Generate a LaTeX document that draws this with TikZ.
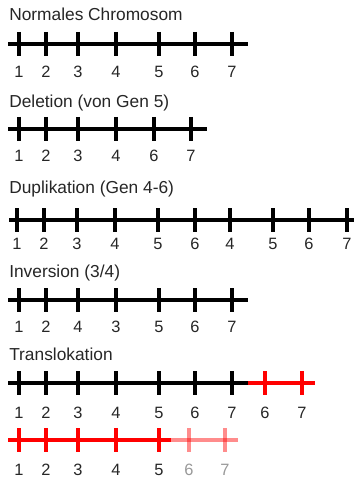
\documentclass[tikz,border=0pt]{standalone}
\usepackage{fontspec}
\setmainfont{Liberation Sans}
\usetikzlibrary{positioning}

\tikzset{
  chrom/.style={line width=3.5pt},
  gene/.style={line width=3.2pt},
  nr/.style={font=\fontsize{12.3}{14}\selectfont, inner sep=0pt, text=black!85},
  title/.style={font=\fontsize{13}{15}\selectfont, inner sep=0pt, anchor=base west, text=black!85},
}

\begin{document}
\begin{tikzpicture}[x=0.75pt, y=-0.75pt]
  \useasboundingbox (0,0) rectangle (354,477);

  % normales Chromosom
  \node[title] (normal) at (9,21) {Normales Chromosom};
  \draw[chrom] (8,44) -- (248,44);
  \foreach \x/\n [count=\i] in {19/1,46/2,78/3,116/4,159/5,195/6,232/7}{
    \draw[gene] (\x,32) -- (\x,56);
    \node[nr] (normal\i) at (\x,72) {\n};
  }

  % Deletion
  \node[title] (deletion) at (9,108) {Deletion (von Gen 5)};
  \draw[chrom] (8,129) -- (207,129);
  \foreach \x/\n [count=\i] in {19/1,46/2,78/3,116/4,154/6,191/7}{
    \draw[gene] (\x,117) -- (\x,141);
    \node[nr] (deletion\i) at (\x,156) {\n};
  }

  % Duplikation
  \node[title] (duplikation) at (9,194) {Duplikation (Gen 4-6)};
  \draw[chrom] (9,220) -- (354,220);
  \foreach \x/\n [count=\i] in {17/1,44/2,77/3,115/4,158/5,195/6,230/4,273/5,309/6,347/7}{
    \draw[gene] (\x,208) -- (\x,232);
    \node[nr] (duplikation\i) at (\x,244) {\n};
  }

  % Inversion
  \node[title] (inversion) at (9,277) {Inversion (3/4)};
  \draw[chrom] (8,300) -- (248,300);
  \foreach \x/\n [count=\i] in {19/1,46/2,78/4,116/3,159/5,195/6,232/7}{
    \draw[gene] (\x,288) -- (\x,312);
    \node[nr] (inversion\i) at (\x,327) {\n};
  }

  % Translokation
  \node[title] (translokation) at (9,360.5) {Translokation};
  \draw[chrom] (8,383) -- (248,383);
  \draw[chrom, red] (248,383) -- (315,383);
  \foreach \x/\n [count=\i] in {19/1,46/2,78/3,116/4,159/5,195/6,232/7}{
    \draw[gene] (\x,371) -- (\x,395);
    \node[nr] (transA\i) at (\x,412.5) {\n};
  }
  \foreach \x/\n [count=\i] in {265/6,302/7}{
    \draw[gene, red] (\x,371) -- (\x,395);
    \node[nr] (transB\i) at (\x,412.5) {\n};
  }

  \draw[chrom, red] (8,440) -- (171,440);
  \draw[chrom, red, opacity=0.45] (171,440) -- (238,440);
  \foreach \x/\n [count=\i] in {19/1,46/2,78/3,116/4,159/5}{
    \draw[gene, red] (\x,428) -- (\x,452);
    \node[nr] (transC\i) at (\x,469.5) {\n};
  }
  \foreach \x/\n [count=\i] in {189/6,225/7}{
    \draw[gene, red, opacity=0.45] (\x,428) -- (\x,452);
    \node[nr, gray!80] (transD\i) at (\x,469.5) {\n};
  }
\end{tikzpicture}
\end{document}
